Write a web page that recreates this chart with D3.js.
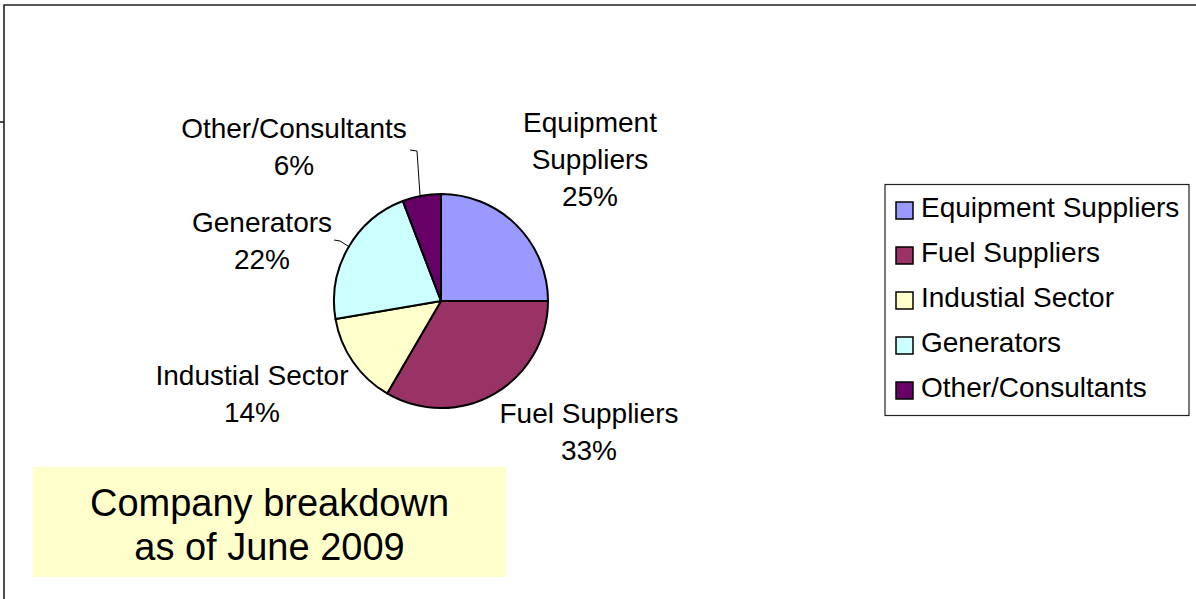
<!DOCTYPE html>
<html><head><meta charset="utf-8">
<script src="https://cdn.jsdelivr.net/npm/d3@7"></script>
<style>
html,body{margin:0;padding:0;background:#fff;}
svg{display:block;font-family:"Liberation Sans",Arial,sans-serif;}
</style></head>
<body>
<svg id="c" width="1196" height="599"></svg>
<script>
const categories = ["Equipment Suppliers","Fuel Suppliers","Industial Sector","Generators","Other/Consultants"];
const values = [25, 33.4, 13.9, 21.9, 5.8];
const percentLabels = ["25%","33%","14%","22%","6%"];
const labelLines = [["Equipment","Suppliers"],["Fuel Suppliers"],["Industial Sector"],["Generators"],["Other/Consultants"]];
const colors = ["#9999FF","#993366","#FFFFCC","#CCFFFF","#660066"];
const titleLines = ["Company breakdown","as of June 2009"];

const svg = d3.select("#c");
const W = 1196, H = 599;

// frame
svg.append("path").attr("d", `M4,${H} L4,5 L${W},5`).attr("fill","none").attr("stroke","#222").attr("stroke-width",1.6);
svg.append("line").attr("x1",0).attr("x2",4).attr("y1",122).attr("y2",122).attr("stroke","#222").attr("stroke-width",1.6);

// pie
const cx = 441, cy = 301, r = 107;
const pie = d3.pie().sort(null).value(d => d)(values);
const arc = d3.arc().innerRadius(0).outerRadius(r);
const g = svg.append("g").attr("transform",`translate(${cx},${cy})`);
g.selectAll("path").data(pie).join("path")
  .attr("d", arc)
  .attr("fill", (d,i) => colors[i])
  .attr("stroke","#000").attr("stroke-width",2).attr("stroke-linejoin","round");

// data labels
const labelPos = [
  {x:590, y:132},
  {x:589, y:423},
  {x:252, y:385},
  {x:262, y:232},
  {x:294, y:138}
];
const fs = 28, lh = 37;
categories.forEach((c,i) => {
  const lines = labelLines[i].concat([percentLabels[i]]);
  const t = svg.append("text").attr("text-anchor","middle").attr("font-size",fs).attr("fill","#000");
  lines.forEach((l,j) => t.append("tspan").attr("x",labelPos[i].x).attr("y",labelPos[i].y + j*lh).text(l));
});

// leader lines
const lineGen = d3.line();
svg.append("path").attr("d", lineGen([[410,150],[417,151],[420,195]])).attr("fill","none").attr("stroke","#000").attr("stroke-width",1);
svg.append("path").attr("d", lineGen([[334,240],[340,241],[348,246]])).attr("fill","none").attr("stroke","#000").attr("stroke-width",1);

// legend
const lg = svg.append("g");
lg.append("rect").attr("x",885).attr("y",184.5).attr("width",304).attr("height",231)
  .attr("fill","#fff").attr("stroke","#222").attr("stroke-width",1.2);
categories.forEach((c,i) => {
  const y = 217 + i*45;
  lg.append("rect").attr("x",896).attr("y",y-15).attr("width",17).attr("height",17)
    .attr("fill",colors[i]).attr("stroke","#000").attr("stroke-width",1.5);
  lg.append("text").attr("x",921).attr("y",y).attr("font-size",fs).attr("fill","#000").text(c);
});

// title box
svg.append("rect").attr("x",33).attr("y",467).attr("width",473).attr("height",110).attr("fill","#FFFFCC");
const tt = svg.append("text").attr("text-anchor","middle").attr("font-size",38).attr("fill","#000");
titleLines.forEach((l,j) => tt.append("tspan").attr("x",269.5).attr("y",516 + j*44).text(l));
</script>
</body></html>
